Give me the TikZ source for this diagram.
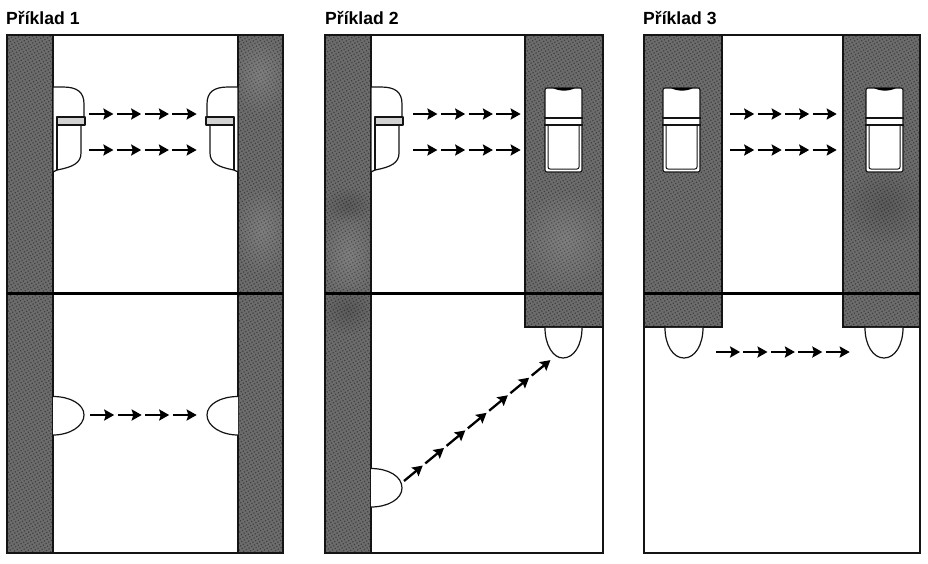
\documentclass[tikz,border=0pt]{standalone}
\usepackage{fontspec}
\setmainfont{Liberation Sans}
\usetikzlibrary{arrows.meta,calc,patterns.meta,fadings}
\definecolor{wallgray}{HTML}{6C6C6C}
\definecolor{speck}{HTML}{3E3E3E}
\definecolor{inkdark}{HTML}{141414}
\tikzset{
  wall/.style={fill=wallgray,draw=none,postaction={pattern={Dots[distance=3.1pt,radius=0.85pt,angle=30]},pattern color=speck}},
  lightpatch/.style={fill=white,opacity=.13,draw=none,path fading=fuzzy},
  darkpatch/.style={fill=black,opacity=.16,draw=none,path fading=fuzzy},
  frameline/.style={draw=inkdark,line width=1.6pt},
  divider/.style={draw=black,line width=3pt},
  unit/.style={draw=inkdark,line width=1.2pt,fill=white,line join=round},
  beam/.style={draw=black,line width=2.3pt,-{Stealth[length=10pt,width=11pt,inset=1.6pt]}},
  heading/.style={font=\bfseries\fontsize{17.6}{18}\selectfont,anchor=base west,inner sep=0pt,text=black}
}
\tikzfading[name=fuzzy,inner color=transparent!0,outer color=transparent!100]
\newcommand{\beamchain}[3]{%
  \foreach \k in {1,...,#3}{%
    \pgfmathsetmacro{\fa}{(\k-1)/#3}
    \pgfmathsetmacro{\fb}{(\k-0.12)/#3}
    \draw[beam] ($(#1)!\fa!(#2)$) -- ($(#1)!\fb!(#2)$);
  }}
\newcommand{\sideunit}[2]{%
  \begin{scope}[shift={(#1,0)},xscale=#2]
    \path[unit] (0,87) -- (10,87) .. controls (24,87) and (31,92) .. (31,104) -- (31,117) -- (4,117) -- (4,170) -- (0,172) -- cycle;
    \path[unit] (4,125) -- (28,125) -- (28,153) .. controls (28,163) and (20,167) .. (4,170) -- cycle;
    \path[unit,fill=gray!35] (4,117) rectangle (32,125);
    \draw[inkdark,line width=2pt] (4,125) -- (4,170);
  \end{scope}}
\newcommand{\frontunit}[1]{%
  \begin{scope}[shift={(#1,0)}]
    \path[draw=inkdark,line width=1.1pt,fill=white,rounded corners=2pt] (0,88) rectangle (37,172);
    \fill[black] (8,88) .. controls (14,91.5) and (24,91.5) .. (30,88) -- cycle;
    \draw[inkdark,line width=1.2pt] (-1,118) -- (38,118) (-1,125) -- (38,125);
    \draw[inkdark,line width=1pt,rounded corners=2pt] (3,125) -- (3,169) -- (34,169) -- (34,125);
  \end{scope}}
\begin{document}
\begin{tikzpicture}[x=1pt,y=-1pt]
\useasboundingbox (0,0) rectangle (928,563);
\fill[white] (0,0) rectangle (928,563);
\node[heading] (t1) at (6,24.5) {Příklad 1};
\node[heading] (t2) at (325,24.5) {Příklad 2};
\node[heading] (t3) at (643,24.5) {Příklad 3};
% walls
\path[wall] (7,35) rectangle (53,553);
\path[wall] (238,35) rectangle (283,553);
\path[wall] (325,35) rectangle (371,553);
\path[wall] (525,35) rectangle (603,327);
\path[wall] (644,35) rectangle (722,327);
\path[wall] (843,35) rectangle (920,327);
% mottling of the walls
\begin{scope}
\clip (238,36) rectangle (283,553) (7,36) rectangle (53,553) (325,36) rectangle (371,553) (843,36) rectangle (920,327) (644,36) rectangle (722,327) (525,36) rectangle (603,327);
\fill[lightpatch] (260,75) ellipse (28 and 40);
\fill[lightpatch] (262,230) ellipse (28 and 45);
\fill[lightpatch] (348,255) ellipse (28 and 45);
\fill[lightpatch] (565,240) ellipse (45 and 50);
\fill[darkpatch] (348,310) ellipse (28 and 25);
\fill[darkpatch] (348,205) ellipse (26 and 18);
\fill[darkpatch] (885,205) ellipse (42 and 40);
\end{scope}
% frames
\path[frameline] (7,35) rectangle (283,553);
\path[frameline] (325,35) rectangle (603,553);
\path[frameline] (644,35) rectangle (920,553);
\draw[inkdark,line width=1.2pt] (525,35) -- (525,327) -- (603,327);
\draw[inkdark,line width=1.2pt] (644,327) -- (722,327) -- (722,35);
\draw[inkdark,line width=1.2pt] (843,35) -- (843,327) -- (920,327);
\draw[inkdark,line width=1.2pt] (53,35) -- (53,553) (238,35) -- (238,553) (371,35) -- (371,553);
% dividers
\coordinate (d1a) at (7,293); \coordinate (d1b) at (283,293);
\coordinate (d2a) at (325,293); \coordinate (d2b) at (603,293);
\coordinate (d3a) at (644,293); \coordinate (d3b) at (920,293);
\path[divider] (d1a) -- (d1b) (d2a) -- (d2b) (d3a) -- (d3b);
% upper units
\sideunit{53}{1}
\sideunit{238}{-1}
\sideunit{371}{1}
\frontunit{545}
\frontunit{663}
\frontunit{866}
% lower half domes
\path[unit] (53,396.5) .. controls (70,396.5) and (84,404) .. (84,415) .. controls (84,426) and (70,435) .. (53,435);
\path[unit] (238,396.5) .. controls (221,396.5) and (207,404) .. (207,415) .. controls (207,426) and (221,435) .. (238,435);
\path[unit] (371,468.5) .. controls (388,468.5) and (402,476) .. (402,488) .. controls (402,499) and (388,507) .. (371,507);
\path[unit] (545,327.8) .. controls (545,345) and (553,358) .. (563,358) .. controls (574,358) and (582,345) .. (582,327.8);
\path[unit] (665,327.8) .. controls (665,345) and (673,358) .. (684,358) .. controls (695,358) and (703,345) .. (703,327.8);
\path[unit] (865,327.8) .. controls (865,345) and (873,358) .. (884,358) .. controls (895,358) and (903,345) .. (903,327.8);
% beams
\coordinate (a1) at (89,114); \coordinate (b1) at (200,114);
\coordinate (a2) at (89,150); \coordinate (b2) at (200,150);
\coordinate (a3) at (90,415); \coordinate (b3) at (200,415);
\coordinate (a4) at (413,114); \coordinate (b4) at (524,114);
\coordinate (a5) at (413,150); \coordinate (b5) at (524,150);
\coordinate (a6) at (404,481); \coordinate (b6) at (553,358);
\coordinate (a7) at (730,114); \coordinate (b7) at (840,114);
\coordinate (a8) at (730,150); \coordinate (b8) at (840,150);
\coordinate (a9) at (716,352); \coordinate (b9) at (853,352);
\beamchain{a1}{b1}{4}
\beamchain{a2}{b2}{4}
\beamchain{a3}{b3}{4}
\beamchain{a4}{b4}{4}
\beamchain{a5}{b5}{4}
\beamchain{a6}{b6}{7}
\beamchain{a7}{b7}{4}
\beamchain{a8}{b8}{4}
\beamchain{a9}{b9}{5}
\end{tikzpicture}
\end{document}
